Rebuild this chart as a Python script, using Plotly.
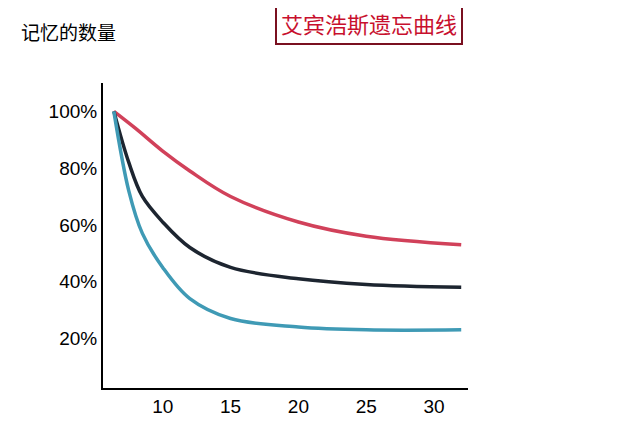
import plotly.graph_objects as go

days_poem = [6.4, 8, 10, 12, 15, 20, 25, 32]
poem = [100, 94, 86, 79, 70, 61, 56, 53]
days_prose = [6.4, 7.5, 8.5, 10, 12, 15, 20, 25, 32]
prose = [100, 82, 70, 61, 52, 45, 41, 39, 38]
days_noise = [6.4, 7.5, 8.5, 10, 12, 15, 20, 25, 32]
noise = [100, 72, 57, 45, 34, 27, 24, 23, 23]

x_ticks = [10, 15, 20, 25, 30]
y_ticks = [20, 40, 60, 80, 100]
y_labels = ["20%", "40%", "60%", "80%", "100%"]

fig = go.Figure()
for xs, ys, color in [(days_poem, poem, "#d1415a"),
                      (days_prose, prose, "#1d2530"),
                      (days_noise, noise, "#3f9ab5")]:
    fig.add_trace(go.Scatter(x=xs, y=ys, mode="lines",
                             line=dict(color=color, width=3.5, shape="spline", smoothing=1.0)))

font = dict(family="Noto Sans CJK SC", size=19, color="black")
labels = [(32.8, 53, "诗歌"), (32.8, 38, "散文"), (32.8, 23, "无意义音节")]
for x, y, t in labels:
    fig.add_annotation(x=x, y=y, text=t, showarrow=False, xanchor="left", font=font)
fig.add_annotation(x=33.3, y=0, yref="paper", text="天数", showarrow=False,
                   xanchor="left", yanchor="middle", font=font)
fig.add_annotation(xref="paper", yref="paper", x=-0.23, y=1.22, text="记忆的数量",
                   showarrow=False, xanchor="left", font=font)
fig.add_annotation(xref="paper", yref="paper", x=0.47, y=1.27, text="艾宾浩斯遗忘曲线",
                   showarrow=False, xanchor="left",
                   font=dict(family="Noto Sans CJK SC", size=22, color="#c8102e"),
                   bordercolor="#7a1020", borderwidth=2, borderpad=4, bgcolor="white")

fig.update_layout(
    width=624, height=428, showlegend=False,
    paper_bgcolor="white", plot_bgcolor="white",
    margin=dict(l=95, r=164, t=75, b=48),
    xaxis=dict(range=[5.6, 32.5], tickvals=x_ticks, showgrid=False, zeroline=False,
               showline=True, linecolor="black", linewidth=2, ticks="",
               tickfont=dict(family="Liberation Sans", size=19, color="black")),
    yaxis=dict(range=[2.5, 110], tickvals=y_ticks, ticktext=y_labels, showgrid=False,
               zeroline=False, showline=True, linecolor="black", linewidth=2, ticks="",
               tickfont=dict(family="Liberation Sans", size=19, color="black")),
)
fig.write_html("out.html")
